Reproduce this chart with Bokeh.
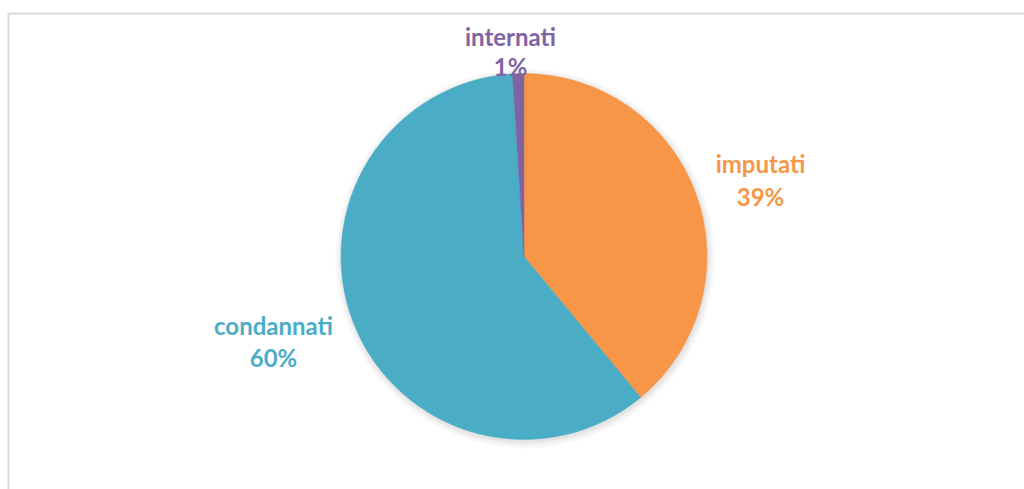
import math
from bokeh.plotting import figure
from bokeh.models import Range1d, ColumnDataSource
from bokeh.core.properties import value
from bokeh.embed import file_html
from bokeh.resources import INLINE

# data
categories = ["imputati", "condannati", "internati"]
values = [39, 60, 1]
colors = ["#F79646", "#4BACC6", "#8064A2"]

W, H = 1024, 489
p = figure(width=W, height=H, output_backend="svg", toolbar_location=None,
           x_range=Range1d(0, W), y_range=Range1d(0, H), min_border=0)
p.axis.visible = False
p.grid.visible = False
p.outline_line_color = None
p.background_fill_color = "white"
p.border_fill_color = "white"

def Y(py):
    return H - py

# chart frame (top and left visible edges)
p.segment(x0=[8, 8], y0=[Y(13), Y(13)], x1=[W + 5, 8], y1=[Y(13), -5],
          line_color="#d9d9d9", line_width=2)

cx, cy, r = 523.5, Y(256), 183

# soft shadow
for i, a in enumerate([0.035, 0.03, 0.025, 0.02]):
    p.circle(x=[cx + 1], y=[cy - 2], radius=r + 1 + 2 * i, fill_color="black",
             fill_alpha=a, line_color=None)

total = sum(values)
starts, ends = [], []
ang = math.pi / 2
for v in values:
    starts.append(ang)
    ang -= v / total * 2 * math.pi
    ends.append(ang)

src = ColumnDataSource(dict(cat=categories, val=values, color=colors,
                            start=starts, end=ends))
p.wedge(x=cx, y=cy, radius=r, start_angle="start", end_angle="end",
        direction="clock", fill_color="color", line_color="color",
        line_width=0.5, source=src)

# label layout (pixel positions of the two label lines)
label_pos = {
    "imputati": (760, 163, 196),
    "condannati": (273, 325, 357),
    "internati": (510, 36, 66),
}
names_x, names_y, pct_x, pct_y, pct_txt = [], [], [], [], []
for c, v in zip(categories, values):
    lx, ly1, ly2 = label_pos[c]
    names_x.append(lx); names_y.append(Y(ly1))
    pct_x.append(lx); pct_y.append(Y(ly2))
    pct_txt.append(f"{v}%")

lsrc = ColumnDataSource(dict(nx=names_x, ny=names_y, px=pct_x, py=pct_y,
                             name=categories, pct=pct_txt, color=colors))
for xk, yk, tk in [("nx", "ny", "name"), ("px", "py", "pct")]:
    p.text(x=xk, y=yk, text=tk, source=lsrc, text_color="color",
           text_font=value("Lato"), text_font_style="bold",
           text_font_size="24px", text_align="center", text_baseline="middle")

open("out.html", "w").write(file_html(p, INLINE))
